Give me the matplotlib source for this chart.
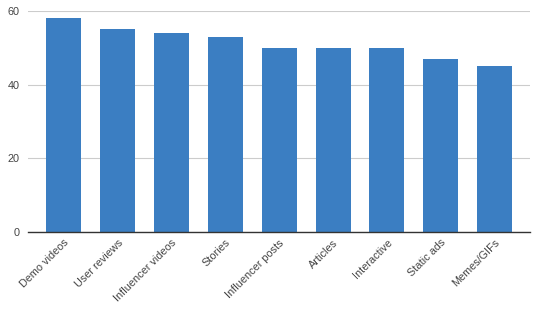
import matplotlib
matplotlib.use("Agg")
import matplotlib.pyplot as plt

categories = ["Demo videos", "User reviews", "Influencer videos", "Stories",
              "Influencer posts", "Articles", "Interactive", "Static ads", "Memes/GIFs"]
values = [58, 55, 54, 53, 50, 50, 50, 47, 45]
yticks = [0, 20, 40, 60]

plt.rcParams['font.family'] = ['Liberation Sans', 'DejaVu Sans']
fig = plt.figure(figsize=(5.4, 3.12), dpi=100)
ax = fig.add_axes([0.052, 0.256, 0.929, 0.709])
x = list(range(len(categories)))
ax.bar(x, values, width=0.65, color="#3b7ec2", zorder=3)
ax.set_xlim(-0.66, len(categories) - 1 + 0.65)
ax.set_ylim(0, 60)
ax.set_yticks(yticks)
ax.set_yticklabels([str(t) for t in yticks], fontsize=7.8, color="#444444")
ax.set_xticks(x)
ax.set_xticklabels(categories, rotation=45, ha="right", va="top",
                   rotation_mode="anchor", fontsize=7.8, color="#444444")
ax.grid(axis="y", color="#cccccc", linewidth=0.8, zorder=0)
for s in ["top", "right", "left"]:
    ax.spines[s].set_visible(False)
ax.spines["bottom"].set_color("#333333")
ax.spines["bottom"].set_linewidth(1.0)
ax.spines["bottom"].set_zorder(4)
ax.tick_params(axis="both", length=0)
ax.tick_params(axis="y", pad=6)
ax.tick_params(axis="x", pad=4)
fig.savefig("out.png", dpi=100)
